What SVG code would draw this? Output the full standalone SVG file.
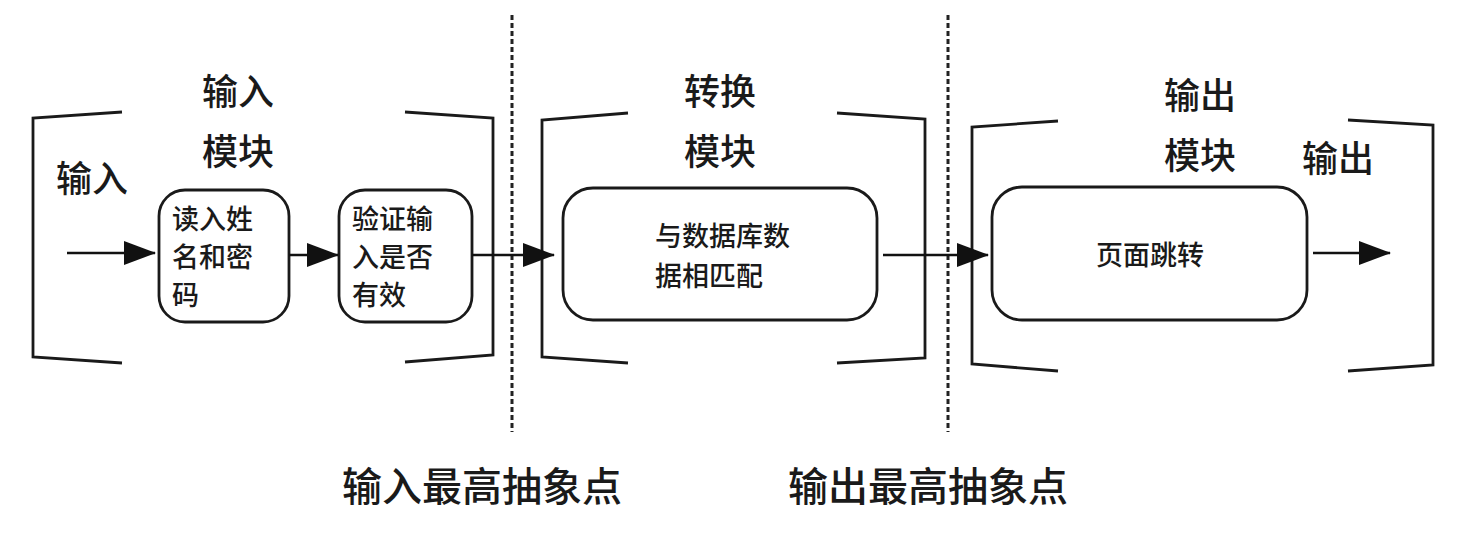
<svg xmlns="http://www.w3.org/2000/svg" width="1474" height="552" viewBox="0 0 1474 552">
<defs>
<marker id="ah" markerUnits="userSpaceOnUse" markerWidth="32" markerHeight="24" refX="31" refY="12" orient="auto">
<path d="M0,0 L32,12 L0,24 Z" fill="#111"/>
</marker>
<style>
.br{fill:none;stroke:#1a1a1a;stroke-width:2.8;stroke-linejoin:miter}
.bx{fill:#fff;stroke:#1a1a1a;stroke-width:2.8}
.dot{stroke:#222;stroke-width:3;stroke-dasharray:5 3}
.ln{stroke:#111;stroke-width:2.6;fill:none;marker-end:url(#ah)}
.t{font-family:"Noto Sans CJK SC","Noto Sans",sans-serif;fill:#1a1a1a;font-weight:500}
.tl{font-size:36px}
.tb{font-size:27px}
.bot{font-size:40px}
</style>
</defs>
<rect width="1474" height="552" fill="#fff"/>
<g id="dividers">
<line class="dot" x1="512" y1="15" x2="512" y2="432"/>
<line class="dot" x1="948" y1="15" x2="948" y2="432"/>
</g>
<g id="input-module">
<path class="br" d="M122,112 L33,118 L33,357 L122,363"/>
<path class="br" d="M405,112 L493,118 L493,355 L405,362"/>
<text class="t tl" x="238" y="105" text-anchor="middle">输入</text>
<text class="t tl" x="238" y="165" text-anchor="middle">模块</text>
</g>
<g id="input-label"><text class="t tl" x="92" y="192" text-anchor="middle">输入</text></g>
<g id="node-read">
<rect class="bx" x="159" y="190" width="130" height="132" rx="26"/>
<text class="t tb" x="172" y="229">读入姓</text>
<text class="t tb" x="172" y="267">名和密</text>
<text class="t tb" x="172" y="305">码</text>
</g>
<g id="node-verify">
<rect class="bx" x="339" y="190" width="133" height="132" rx="26"/>
<text class="t tb" x="352" y="229">验证输</text>
<text class="t tb" x="352" y="267">入是否</text>
<text class="t tb" x="352" y="305">有效</text>
</g>
<g id="transform-module">
<path class="br" d="M628,113 L542,120 L542,357 L628,363"/>
<path class="br" d="M837,113 L925,119 L925,358 L837,363"/>
<text class="t tl" x="720" y="105" text-anchor="middle">转换</text>
<text class="t tl" x="720" y="165" text-anchor="middle">模块</text>
</g>
<g id="node-match">
<rect class="bx" x="563" y="188" width="314" height="132" rx="30"/>
<text class="t tb" x="655" y="246">与数据库数</text>
<text class="t tb" x="655" y="286">据相匹配</text>
</g>
<g id="output-module">
<path class="br" d="M1058,121 L972,127 L972,364 L1058,371"/>
<path class="br" d="M1348,120 L1433,125 L1433,365 L1348,371"/>
<text class="t tl" x="1200" y="109" text-anchor="middle">输出</text>
<text class="t tl" x="1200" y="169" text-anchor="middle">模块</text>
</g>
<g id="output-label"><text class="t tl" x="1338" y="172" text-anchor="middle">输出</text></g>
<g id="node-redirect">
<rect class="bx" x="992" y="187" width="315" height="133" rx="30"/>
<text class="t tb" x="1150" y="265" text-anchor="middle" fill="#333">页面跳转</text>
</g>
<g id="connectors">
<line class="ln" x1="67" y1="253" x2="155" y2="253"/>
<line class="ln" x1="289" y1="255" x2="338" y2="255"/>
<line class="ln" x1="472" y1="255" x2="554" y2="255"/>
<line class="ln" x1="883" y1="255" x2="988" y2="255"/>
<line class="ln" x1="1313" y1="253" x2="1390" y2="253"/>
</g>
<g id="labels">
<text class="t bot" x="482" y="501" text-anchor="middle">输入最高抽象点</text>
<text class="t bot" x="928" y="501" text-anchor="middle">输出最高抽象点</text>
</g>
</svg>
